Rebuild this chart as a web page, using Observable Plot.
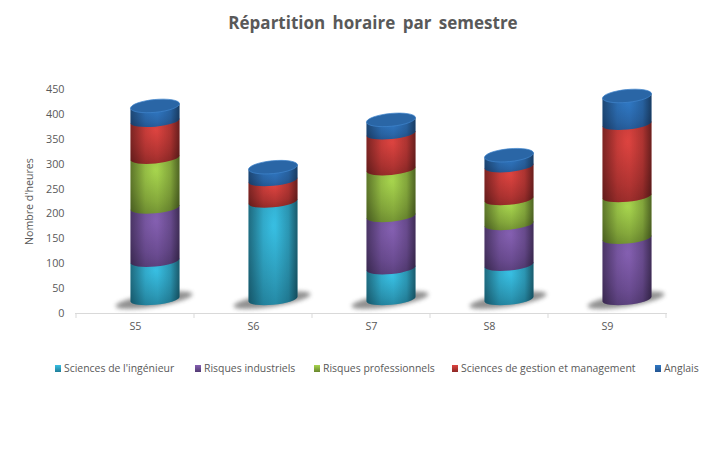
<!DOCTYPE html>
<html><head><meta charset="utf-8">
<script src="https://cdn.jsdelivr.net/npm/d3@7"></script>
<script src="https://cdn.jsdelivr.net/npm/@observablehq/plot@0.6"></script>
<style>
html,body{margin:0;padding:0;background:#fff;width:720px;height:452px;overflow:hidden}
#title{height:50px;padding-left:26px;text-align:center;font:bold 17px/46px "Open Sans",sans-serif;color:#595959;word-spacing:3px}
svg{display:block}
#legend{position:relative;height:24px;margin-top:16px;font:10.45px "Open Sans",sans-serif;color:#595959}
#legend span.it{position:absolute;top:0;white-space:nowrap}
#legend i{position:absolute;top:4px;width:6px;height:7px}
</style></head><body>
<div id="title">Répartition horaire par semestre</div>
<div id="chart"></div>
<div id="legend"></div>
<script>
const semesters = ["S5","S6","S7","S8","S9"];
const seriesNames = ["Sciences de l'ingénieur","Risques industriels","Risques professionnels","Sciences de gestion et management","Anglais"];
const sciencesIngenieur = [77,196,62,69,0];
const risquesIndustriels = [107,0,105,82,123];
const risquesProfessionnels = [100,0,94,50,84];
const sciencesGestion = [74,43,72,66,145];
const anglais = [30,26,27,22,56];
const floorLift = 28; // the 3D floor sits above the axis
const yTicks = [0,50,100,150,200,250,300,350,400,450];
const brights = ["#38c0e4","#8560b2","#a8d64e","#de4440","#2f78c4"];
const mids = ["#2c9ab8","#6b4c92","#86aa3c","#b23432","#2a66a8"];
const darks = ["#1f7d98","#523a72","#68862e","#8c2826","#235490"];
const capColor = "#2a66a6";

const table = [sciencesIngenieur,risquesIndustriels,risquesProfessionnels,sciencesGestion,anglais];
const rows = [];
semesters.forEach((s,si)=>{
  let base = floorLift;
  table.forEach((arr,k)=>{
    const v = arr[si];
    if(v>0){ rows.push({s,k,y1:base,y2:base+v,top:k===table.length-1}); base+=v; }
  });
});

const shift = 20, inset = 34.4, ry = 5.8, rot = -5.5;

function cylinders(index, scales){
  const g = d3.create("svg:g");
  const defs = g.append("defs");
  const f = defs.append("filter").attr("id","shb").attr("x","-20%").attr("y","-60%").attr("width","140%").attr("height","220%");
  f.append("feGaussianBlur").attr("stdDeviation",2.3);
  brights.forEach((c,k)=>{
    const rg = defs.append("radialGradient").attr("id","seg"+k).attr("cx",.5).attr("cy",.25).attr("r",.9);
    rg.append("stop").attr("offset",0).attr("stop-color",c);
    rg.append("stop").attr("offset",.6).attr("stop-color",mids[k]);
    rg.append("stop").attr("offset",1).attr("stop-color",darks[k]);
  });
  const edge = defs.append("linearGradient").attr("id","edge");
  edge.append("stop").attr("offset",0).attr("stop-color","#000").attr("stop-opacity",.32);
  edge.append("stop").attr("offset",.3).attr("stop-color","#000").attr("stop-opacity",.05);
  edge.append("stop").attr("offset",.55).attr("stop-color","#000").attr("stop-opacity",0);
  edge.append("stop").attr("offset",.82).attr("stop-color","#000").attr("stop-opacity",.12);
  edge.append("stop").attr("offset",1).attr("stop-color","#000").attr("stop-opacity",.42);
  const bw = scales.x.bandwidth();
  const rx = (bw-2*inset)/2;
  const rad = rot*Math.PI/180, ex = rx*Math.cos(rad), ey = rx*Math.sin(rad);
  semesters.forEach(s=>{
    const cx = scales.x(s)+bw/2+shift, cy = scales.y(floorLift)+1;
    g.append("ellipse").attr("cx",cx-1).attr("cy",cy).attr("rx",rx*1.58).attr("ry",ry*1.1)
      .attr("transform",`rotate(-9 ${cx} ${cy})`).attr("fill","#4d4d4d").attr("opacity",.62).attr("filter","url(#shb)");
  });
  rows.forEach(d=>{
    const cx = scales.x(d.s)+bw/2+shift, yb = scales.y(d.y1), yt = scales.y(d.y2);
    const path = `M${cx-ex} ${yt-ey}L${cx+ex} ${yt+ey}L${cx+ex} ${yb+ey}A${rx} ${ry} ${rot} 0 1 ${cx-ex} ${yb-ey}Z`;
    g.append("path").attr("d",path).attr("fill",`url(#seg${d.k})`);
    g.append("path").attr("d",path).attr("fill","url(#edge)");
    if(d.top){
      g.append("ellipse").attr("cx",cx).attr("cy",yt).attr("rx",rx).attr("ry",ry+.6)
        .attr("transform",`rotate(${rot} ${cx} ${yt})`).attr("fill",capColor).attr("stroke","#3f84cc").attr("stroke-width",.7);
    }
  });
  return g.node();
}
function xTicks(index, scales){
  const g = d3.create("svg:g").attr("stroke","#d9d9d9");
  const bw = scales.x.bandwidth(), y0 = scales.y(0);
  semesters.forEach(s=>g.append("line").attr("x1",scales.x(s)).attr("x2",scales.x(s)).attr("y1",y0).attr("y2",y0+5));
  const e = scales.x(semesters[semesters.length-1])+bw;
  g.append("line").attr("x1",e).attr("x2",e).attr("y1",y0).attr("y2",y0+5);
  return g.node();
}

const plot = Plot.plot({
  width:720,height:295,marginTop:39,marginBottom:32,marginLeft:75,marginRight:53,
  style:{fontFamily:'"Open Sans",sans-serif',fontSize:"10.8px",color:"#595959",background:"#fff"},
  x:{domain:semesters,padding:0,label:null},
  y:{domain:[0,450],label:null},
  marks:[
    Plot.barY(rows,{x:"s",y1:"y1",y2:"y2",render:cylinders}),
    Plot.ruleY([0],{stroke:"#d9d9d9"}),
    Plot.barY(semesters,{x:d=>d,y1:0,y2:0,render:xTicks}),
    Plot.axisY({ticks:yTicks,tickSize:0,tickPadding:11,label:null}),
    Plot.axisX({tickSize:0,tickPadding:9,label:null}),
    Plot.text(["Nombre d'heures"],{frameAnchor:"left",dx:-46,rotate:-90,fontSize:10.6,fill:"#595959",textAnchor:"middle"})
  ]
});
document.getElementById("chart").appendChild(plot);

const legendX = [55,195,314,452,655];
const leg = document.getElementById("legend");
seriesNames.forEach((n,k)=>{
  const sp = document.createElement("span"); sp.className="it"; sp.style.left=(legendX[k]+9)+"px"; sp.textContent=n;
  const sw = document.createElement("i"); sw.style.left=legendX[k]+"px"; sw.style.background=`linear-gradient(${brights[k]},${darks[k]})`;
  leg.append(sw,sp);
});
</script>
</body></html>
